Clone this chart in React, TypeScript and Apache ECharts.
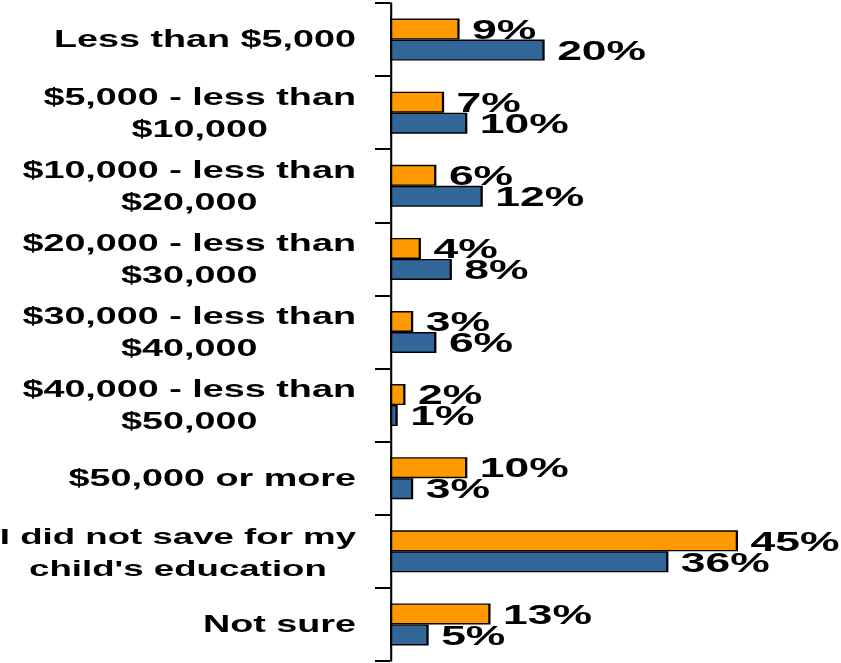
import React, { useEffect, useRef } from "react";
import * as echarts from "echarts";

const categories = [
  "Less than $5,000",
  "$5,000 - less than\n$10,000",
  "$10,000 - less than\n$20,000",
  "$20,000 - less than\n$30,000",
  "$30,000 - less than\n$40,000",
  "$40,000 - less than\n$50,000",
  "$50,000 or more",
  "I did not save for my\nchild's education",
  "Not sure",
];
const orangeValues = [9, 7, 6, 4, 3, 2, 10, 45, 13];
const blueValues = [20, 10, 12, 8, 6, 1, 3, 36, 5];

const SX = 1.6;
const W = 841 / SX;
const H = 663;

export default function App() {
  const ref = useRef<HTMLDivElement>(null);
  useEffect(() => {
    if (!ref.current) return;
    const chart = echarts.init(ref.current, null, { renderer: "svg" });
    const gridLeft = 390 / SX;
    const gridWidth = (50 * 7.733) / SX;
    const labelStyle = {
      show: true,
      position: "right" as const,
      distance: 7.8,
      formatter: "{c}%",
      fontFamily: "Liberation Sans, Arial, sans-serif",
      fontWeight: "bold" as const,
      fontSize: 27.8,
      color: "#000",
    };
    const catText = {
      align: "center",
      fontFamily: "Liberation Sans, Arial, sans-serif",
      fontWeight: "bold",
      lineHeight: 32,
      color: "#000",
    };
    chart.setOption({
      animation: false,
      grid: {
        left: gridLeft,
        width: gridWidth,
        top: 3,
        bottom: 2,
        containLabel: false,
        outerBoundsMode: "none",
      },
      xAxis: { type: "value", min: 0, max: 50, show: false },
      yAxis: {
        type: "category",
        data: categories,
        inverse: true,
        axisLine: { show: true, lineStyle: { color: "#000", width: 1.3 } },
        axisTick: { show: true, length: 15 / SX, lineStyle: { color: "#000", width: 2 } },
        splitLine: { show: false },
        axisLabel: {
          margin: 34 / SX,
          align: "right",
          formatter: (v: string) => {
            const style = v.length > 35 ? "d" : "c";
            return v
              .split("\n")
              .map((l) => "{" + style + "|" + l + "}")
              .join("\n");
          },
          rich: {
            c: { ...catText, fontSize: 23.6 },
            d: { ...catText, fontSize: 22.9 },
          },
        },
      },
      series: [
        {
          type: "bar",
          data: orangeValues,
          barWidth: 21,
          barGap: "0%",
          itemStyle: { color: "#FF9900", borderColor: "#000", borderWidth: 1.4 },
          label: labelStyle,
        },
        {
          type: "bar",
          data: blueValues,
          barWidth: 21,
          barGap: "0%",
          itemStyle: { color: "#336699", borderColor: "#000", borderWidth: 1.4 },
          label: labelStyle,
        },
      ],
    });
    return () => chart.dispose();
  }, []);
  return (
    <div
      ref={ref}
      style={{
        position: "fixed",
        left: 0,
        top: 0,
        width: W,
        height: H,
        transform: `scaleX(${SX})`,
        transformOrigin: "0 0",
      }}
    />
  );
}
